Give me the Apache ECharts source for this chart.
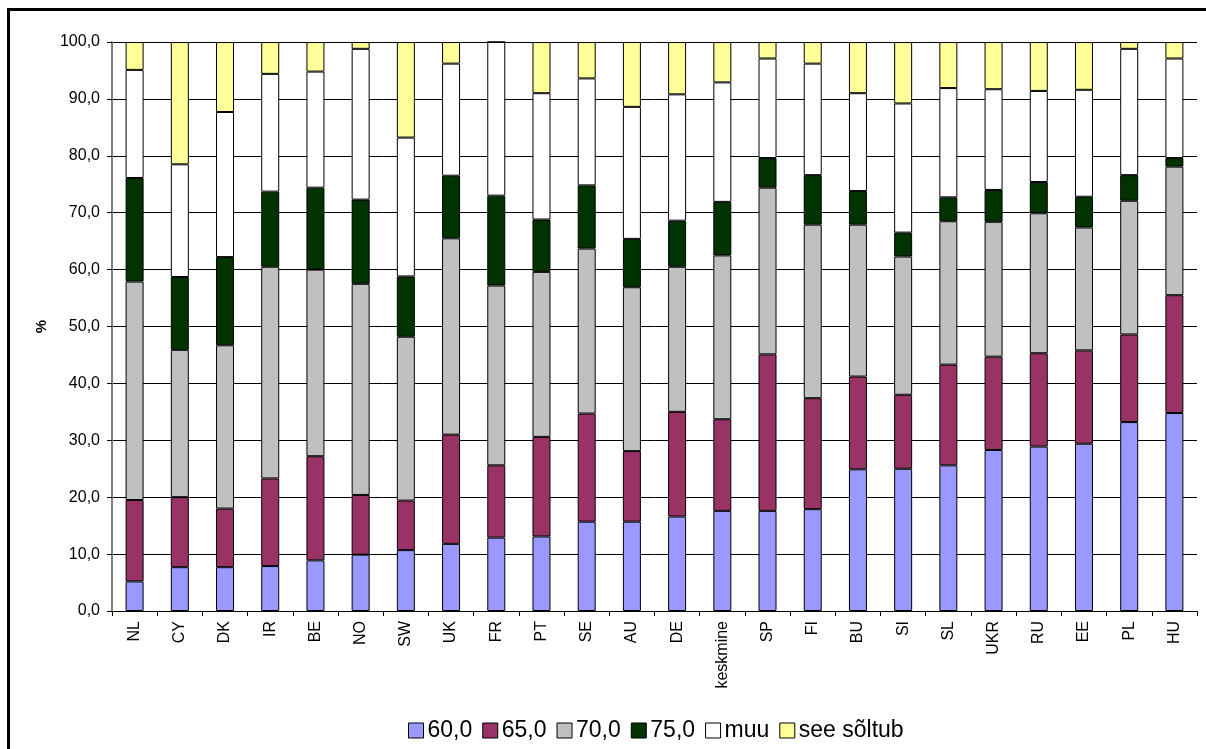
<!DOCTYPE html>
<html>
<head>
<meta charset="utf-8">
<script src="https://cdn.jsdelivr.net/npm/echarts@6/dist/echarts.min.js"></script>
<style>html,body{margin:0;padding:0;background:#fff;}#c{width:1206px;height:749px;}</style>
</head>
<body>
<div id="c"></div>
<script>
const categories = ['NL','CY','DK','IR','BE','NO','SW','UK','FR','PT','SE','AU','DE','keskmine','SP','FI','BU','SI','SL','UKR','RU','EE','PL','HU'];
const seriesNames = ['60,0','65,0','70,0','75,0','muu','see sõltub'];
const s60   = [5.2, 7.7, 7.7, 7.9, 8.9, 9.9, 10.7, 11.8, 12.9, 13.1, 15.7, 15.7, 16.6, 17.6, 17.6, 17.9, 24.9, 25.0, 25.6, 28.3, 28.9, 29.4, 33.2, 34.8];
const s65   = [14.3, 12.3, 10.3, 15.4, 18.3, 10.5, 8.7, 19.2, 12.7, 17.5, 19.0, 12.4, 18.4, 16.1, 27.5, 19.5, 16.3, 13.0, 17.7, 16.4, 16.4, 16.4, 15.4, 20.7];
const s70   = [38.4, 25.9, 28.7, 37.2, 32.8, 37.1, 28.8, 34.5, 31.6, 29.0, 29.0, 28.8, 25.5, 28.8, 29.3, 30.5, 26.7, 24.3, 25.2, 23.7, 24.6, 21.6, 23.5, 22.6];
const s75   = [18.2, 12.8, 15.5, 13.2, 14.4, 14.8, 10.6, 11.0, 15.8, 9.2, 11.1, 8.5, 8.1, 9.4, 5.2, 8.7, 5.9, 4.2, 4.2, 5.6, 5.5, 5.4, 4.5, 1.5];
const sMuu  = [19.0, 19.8, 25.5, 20.7, 20.4, 26.5, 24.4, 19.7, 27.0, 22.2, 18.8, 23.2, 22.2, 21.0, 17.5, 19.6, 17.2, 22.7, 19.2, 17.7, 16.0, 18.8, 22.2, 17.5];
const sSee  = [4.9, 21.5, 12.3, 5.6, 5.2, 1.2, 16.8, 3.8, 0, 9.0, 6.4, 11.4, 9.2, 7.1, 2.9, 3.8, 9.0, 10.8, 8.1, 8.3, 8.6, 8.4, 1.2, 2.9];
const yTicks = [0,10,20,30,40,50,60,70,80,90,100];

const colors = ['#9999FF','#993366','#C0C0C0','#003300','#FFFFFF','#FFFF99'];
const allData = [s60, s65, s70, s75, sMuu, sSee];
const FONT = '"Liberation Sans", Arial, sans-serif';

const chart = echarts.init(document.getElementById('c'), null, {renderer:'canvas'});
chart.setOption({
  animation: false,
  backgroundColor: '#ffffff',
  graphic: [{
    type: 'rect', silent: true, z: 100,
    shape: {x: 8.5, y: 9.5, width: 1210, height: 760},
    style: {fill: 'none', stroke: '#000', lineWidth: 3}
  }],
  grid: {left: 112, right: 9, top: 42, bottom: 138, containLabel: false},
  legend: {
    left: 403, top: 714,
    itemWidth: 15, itemHeight: 15, itemGap: 10,
    icon: 'rect',
    textStyle: {fontSize: 23, color: '#000', fontFamily: FONT, padding: [0,0,0,-1]},
    itemStyle: {borderColor: '#000', borderWidth: 1},
    data: seriesNames
  },
  xAxis: {
    type: 'category',
    data: categories,
    boundaryGap: true,
    axisLine: {lineStyle: {color: '#000', width: 1}},
    axisTick: {show: true, length: 5, lineStyle: {color: '#000'}},
    axisLabel: {rotate: 90, margin: 10, fontSize: 16, color: '#000', fontFamily: FONT, interval: 0},
    splitLine: {show: false}
  },
  yAxis: {
    type: 'value',
    min: yTicks[0], max: yTicks[yTicks.length-1], interval: 10,
    name: '%', nameLocation: 'middle', nameGap: 62, nameRotate: 90,
    nameTextStyle: {fontSize: 15, fontWeight: 'bold', color: '#000', fontFamily: FONT},
    axisLine: {show: true, lineStyle: {color: '#808080', width: 2}},
    axisTick: {show: true, inside: false, length: 5, lineStyle: {color: '#000'}},
    axisLabel: {margin: 12, fontSize: 16, color: '#000', fontFamily: FONT,
      formatter: v => v.toFixed(1).replace('.', ',')},
    splitLine: {show: true, lineStyle: {color: '#000', width: 1}}
  },
  series: seriesNames.map((name, i) => ({
    name: name,
    type: 'bar',
    stack: 'total',
    barWidth: 18,
    data: allData[i],
    itemStyle: {color: colors[i], borderColor: '#000', borderWidth: 1}
  }))
});
</script>
</body>
</html>
